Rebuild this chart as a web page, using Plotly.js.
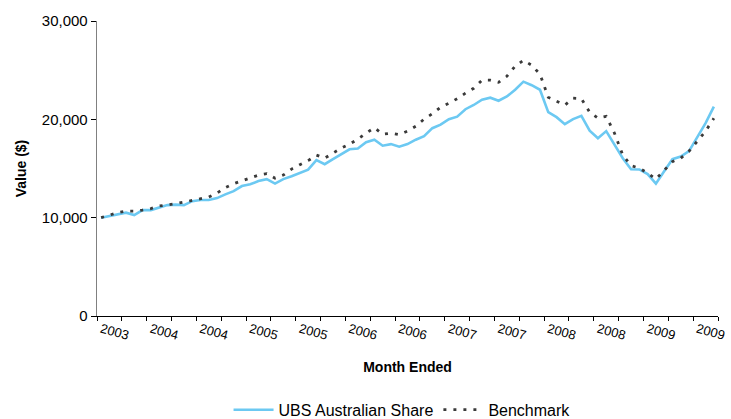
<!DOCTYPE html>
<html>
<head>
<meta charset="utf-8">
<script src="https://cdn.plot.ly/plotly-3.0.1.min.js"></script>
<style>
  html, body { margin: 0; padding: 0; background: #fff; }
  #chart { width: 731px; height: 419px; }
</style>
</head>
<body>
<div id="chart"></div>
<script>
// Monthly observations (Jul 2003 – Sep 2009), value of $10,000 invested
const months = [
  "Jul 2003","Aug 2003","Sep 2003","Oct 2003","Nov 2003","Dec 2003",
  "Jan 2004","Feb 2004","Mar 2004","Apr 2004","May 2004","Jun 2004",
  "Jul 2004","Aug 2004","Sep 2004","Oct 2004","Nov 2004","Dec 2004",
  "Jan 2005","Feb 2005","Mar 2005","Apr 2005","May 2005","Jun 2005",
  "Jul 2005","Aug 2005","Sep 2005","Oct 2005","Nov 2005","Dec 2005",
  "Jan 2006","Feb 2006","Mar 2006","Apr 2006","May 2006","Jun 2006",
  "Jul 2006","Aug 2006","Sep 2006","Oct 2006","Nov 2006","Dec 2006",
  "Jan 2007","Feb 2007","Mar 2007","Apr 2007","May 2007","Jun 2007",
  "Jul 2007","Aug 2007","Sep 2007","Oct 2007","Nov 2007","Dec 2007",
  "Jan 2008","Feb 2008","Mar 2008","Apr 2008","May 2008","Jun 2008",
  "Jul 2008","Aug 2008","Sep 2008","Oct 2008","Nov 2008","Dec 2008",
  "Jan 2009","Feb 2009","Mar 2009","Apr 2009","May 2009","Jun 2009",
  "Jul 2009","Aug 2009","Sep 2009"
];

const ubsAustralianShare = [
  10000,10150,10310,10510,10260,10770,10770,11020,11280,11330,11280,11680,
  11790,11790,11990,12370,12700,13210,13390,13720,13920,13460,13920,14220,
  14530,14880,15850,15440,15950,16410,16950,17040,17680,17930,17320,17480,
  17220,17480,17930,18290,19100,19460,20020,20270,21030,21460,22000,22200,
  21890,22320,23010,23830,23470,23010,20730,20220,19510,20020,20350,18850,
  18080,18800,17480,16050,14930,14900,14430,13460,14730,15950,16220,16760,
  18190,19610,21300
];

const benchmark = [
  10000,10260,10520,10670,10670,10770,10920,11180,11280,11430,11580,11730,
  11890,12090,12500,13060,13460,13770,14070,14330,14480,14020,14330,14940,
  15390,15800,16360,16050,16560,17070,17480,17980,18590,19150,18490,18590,
  18440,18800,19300,20020,20570,21230,21640,22100,22660,23160,23980,23980,
  23770,24380,25400,26010,25500,24590,22250,21840,21440,22150,22100,20730,
  20120,20300,18590,16360,15290,15040,14530,13920,14830,15700,16050,16760,
  17780,18800,20100
];

const seriesNames = ["UBS Australian Share", "Benchmark"];

// Half-yearly tick labels (every 6th month) and quarterly tick marks
const labelIdx = [];
const labelText = [];
for (let i = 0; i < months.length; i += 6) {
  labelIdx.push(i);
  labelText.push(months[i].split(" ")[1]);
}
const quarterTicks = [];
for (let b = -0.5; b <= months.length - 0.5 + 1e-9; b += 3) quarterTicks.push(b);

const idx = months.map((_, i) => i);

const traces = [
  {
    x: idx, y: ubsAustralianShare, name: seriesNames[0],
    type: "scatter", mode: "lines",
    text: months, hovertemplate: "%{text}: %{y:,.0f}<extra></extra>",
    line: { color: "#6cc9f2", width: 2.6 }
  },
  {
    x: idx, y: benchmark, name: seriesNames[1],
    type: "scatter", mode: "lines",
    text: months, hovertemplate: "%{text}: %{y:,.0f}<extra></extra>",
    line: { color: "#3a3a3a", width: 2.8, dash: "3px,7px" }
  }
];

const layout = {
  width: 731, height: 419,
  paper_bgcolor: "#ffffff", plot_bgcolor: "#ffffff",
  margin: { l: 97, r: 13, t: 21, b: 103, autoexpand: false },
  font: { family: "Liberation Sans, Arial, sans-serif", color: "#000" },
  showlegend: true,
  legend: {
    orientation: "h", xref: "container", yref: "container",
    x: 0.55, xanchor: "center", y: 0.022, yanchor: "middle",
    font: { size: 16, color: "#000" }, itemwidth: 40, tracegroupgap: 0
  },
  xaxis: {
    automargin: false,
    range: [-0.5, months.length - 0.5],
    showgrid: false, zeroline: false,
    showline: true, linecolor: "#000", linewidth: 1,
    tickmode: "array", tickvals: labelIdx, ticktext: labelText,
    ticks: "", ticklen: 2, tickangle: 15,
    tickfont: { size: 13, color: "#000" },
    minor: { tickmode: "array", tickvals: quarterTicks, ticks: "outside", ticklen: 4, tickcolor: "#000", tickwidth: 1, showgrid: false },
    title: { text: "<b>Month Ended</b>", font: { size: 14, color: "#000" }, standoff: 20 }
  },
  yaxis: {
    automargin: false,
    range: [0, 30000], dtick: 10000, tickformat: ",",
    showgrid: false, zeroline: false,
    showline: true, linecolor: "#808080", linewidth: 1.3,
    ticks: "outside", ticklen: 5, tickcolor: "#000",
    tickfont: { size: 15, color: "#000" },
    title: { text: "<b>Value ($)</b>", font: { size: 14, color: "#000" }, standoff: 12 }
  }
};

Plotly.newPlot("chart", traces, layout, { displayModeBar: false, staticPlot: true });
</script>
</body>
</html>
